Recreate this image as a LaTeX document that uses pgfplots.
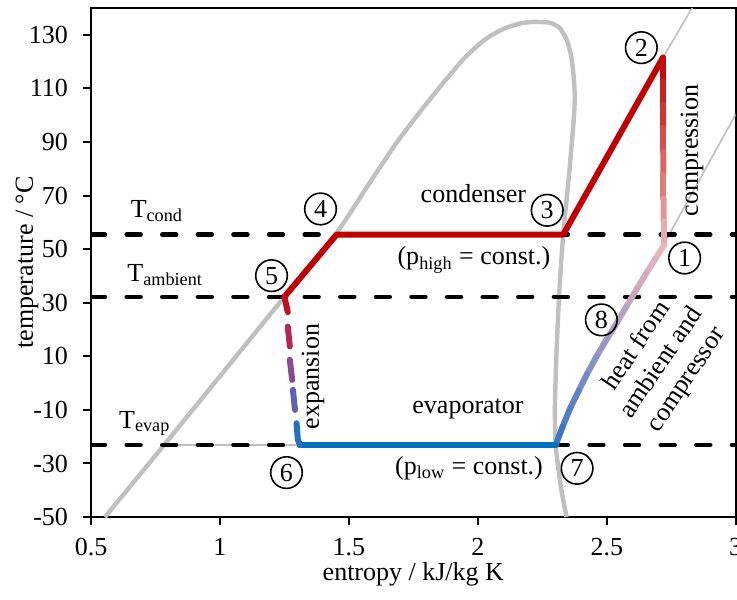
\documentclass[border=0pt]{standalone}
\usepackage{fontspec}
\setmainfont{Liberation Serif}
\usepackage{pgfplots}
\pgfplotsset{compat=1.18}
\definecolor{dome}{RGB}{192,192,192}
\definecolor{cred}{RGB}{192,0,0}
\definecolor{cblue}{RGB}{0,112,192}
\definecolor{ex1}{RGB}{192,16,36}
\definecolor{ex2}{RGB}{178,42,84}
\definecolor{ex3}{RGB}{140,74,144}
\definecolor{ex4}{RGB}{98,96,176}
\definecolor{ex5}{RGB}{40,110,192}
\begin{document}
\fontsize{13bp}{15.6bp}\selectfont
\begin{tikzpicture}[cn/.style={circle, draw, line width=0.8bp, inner sep=0pt, minimum size=15.8bp}]
\begin{axis}[name=ax, scale only axis, width=322.3bp, height=254.5bp,
 xmin=0.5, xmax=3, ymin=-50, ymax=140,
 xtick={0.5,1,1.5,2,2.5,3}, ytick={-50,-30,-10,10,30,50,70,90,110,130},
 tick align=outside, major tick length=4bp, tick pos=left,
 axis line style={line width=1bp}, tick style={line width=1bp, black},
 /pgf/number format/assume math mode=true,
 yticklabel style={xshift=-3bp}, xticklabel style={yshift=-2bp},
 xlabel={entropy / kJ/kg K}, ylabel={temperature / °C},
 every axis x label/.style={at={(axis description cs:0.5,-0.1238)}, anchor=base},
 every axis y label/.style={at={(axis description cs:-0.09,0.5)}, rotate=90, anchor=base},
 point meta min=0, point meta max=1,
]
% saturation dome
\addplot[dome, line width=2.2bp, smooth, tension=0.4] table {
x y
0.554 -50
0.780 -23.5
1.250 32.2
1.452 56.0
1.572 73.5
1.685 89.7
1.814 105.9
1.943 120.8
2.030 128.4
2.100 132.2
2.163 134.2
2.214 134.8
2.279 134.5
2.318 132.5
2.345 128.0
2.362 122.0
2.372 114.0
2.376 106.0
2.370 96.0
2.352 76.0
2.331 55.4
2.315 32.4
2.305 11.2
2.299 -8.8
2.302 -23.1
2.322 -38.7
2.344 -50.0
};
% thin isobars
\addplot[dome, line width=0.8bp] coordinates {(2.718,121.5) (2.831,140)};
\addplot[dome, line width=0.8bp] coordinates {(2.722,52) (3.0,100.3)};
\addplot[dome, line width=0.8bp] coordinates {(0.780,-23.1) (1.310,-23.1)};
% dashed temperature levels
\addplot[black, line width=2.2bp, line cap=round, dash pattern=on 7bp off 10.8bp] coordinates {(0.5,55.4) (3,55.4)};
\addplot[black, line width=2.2bp, line cap=round, dash pattern=on 7bp off 10.8bp] coordinates {(0.5,32.2) (3,32.2)};
\addplot[black, line width=2.2bp, line cap=round, dash pattern=on 7bp off 10.8bp] coordinates {(0.5,-23.1) (3,-23.1)};
% high pressure side
\addplot[cred, line width=3bp, line join=round, line cap=round] coordinates {(1.250,32.2) (1.452,55.4) (2.331,55.4) (2.718,121.5)};
% compression (gradient)
\addplot[mesh, shader=flat, colormap={comp}{rgb255=(192,0,0) rgb255=(212,90,90) rgb255=(232,186,186)}, point meta=explicit, line width=3bp, line cap=round] table[meta=m] {
x y m
2.718 121.5 0
2.718 112.8 0.125
2.718 104.0 0.25
2.719 95.3 0.375
2.719 86.5 0.5
2.720 77.8 0.625
2.720 69.0 0.75
2.721 60.3 0.875
2.722 51.5 1
};
% heat from ambient and compressor (gradient)
\addplot[mesh, shader=flat, colormap={heat}{rgb255=(232,186,188) rgb255=(205,170,190) rgb255=(160,155,196) rgb255=(105,133,198) rgb255=(55,115,192)}, point meta=explicit, line width=3bp, line cap=round] table[meta=m] {
x y m
2.722 51.5 0
2.688 46.3 0.08
2.654 41.1 0.16
2.615 34.9 0.25
2.576 28.6 0.33
2.538 22.4 0.41
2.499 16.2 0.49
2.460 9.9 0.57
2.424 3.5 0.66
2.391 -2.9 0.74
2.358 -9.4 0.82
2.329 -16.2 0.91
2.302 -23.1 1
};
% evaporator
\addplot[cblue, line width=3bp, line cap=round] coordinates {(1.310,-23.1) (2.302,-23.1)};
% expansion (dashed, gradient)
\addplot[ex1, line width=3bp, line cap=round] coordinates {(1.250,32.2) (1.263,26.5)};
\addplot[ex2, line width=3bp, line cap=round] coordinates {(1.263,21.1) (1.271,13.7)};
\addplot[ex3, line width=3bp, line cap=round] coordinates {(1.271,8.7) (1.280,1.2)};
\addplot[ex4, line width=3bp, line cap=round] coordinates {(1.283,-2.5) (1.291,-10.0)};
\addplot[ex5, line width=3bp, line cap=round, line join=round] coordinates {(1.297,-15.0) (1.302,-21.0) (1.310,-23.1)};
% labels
\node[anchor=base west] at (axis cs:0.619,61.8) {T\textsubscript{cond}};
\node[anchor=base west] at (axis cs:0.606,38.0) {T\textsubscript{ambient}};
\node[anchor=base west] at (axis cs:0.574,-16.8) {T\textsubscript{evap}};
\node[anchor=base] at (axis cs:1.983,67.5) {condenser};
\node[anchor=base] at (axis cs:1.985,44.2) {(p\textsubscript{high} = const.)};
\node[anchor=base] at (axis cs:1.962,-11.5) {evaporator};
\node[anchor=base] at (axis cs:1.966,-34.0) {(p\textsubscript{low} = const.)};
\node[rotate=90] at (axis cs:2.831,86.8) {compression};
\node[rotate=90] at (axis cs:1.361,2.4) {expansion};
\node[rotate=56, align=center, font=\fontsize{13bp}{15bp}\selectfont] at (axis cs:2.714,7.5) {heat from\\ambient and\\compressor};
\node[cn] at (axis cs:2.802,46.7) {1};
\node[cn] at (axis cs:2.634,125.2) {2};
\node[cn] at (axis cs:2.269,64.5) {3};
\node[cn] at (axis cs:1.390,65.0) {4};
\node[cn] at (axis cs:1.200,40.1) {5};
\node[cn] at (axis cs:1.258,-33.4) {6};
\node[cn] at (axis cs:2.385,-31.8) {7};
\node[cn] at (axis cs:2.479,23.6) {8};
\end{axis}
\pgfresetboundingbox
\path[use as bounding box] ([shift={(-45.5bp,-41bp)}]ax.south west) rectangle ([shift={(0.65bp,4bp)}]ax.north east);
\end{tikzpicture}
\end{document}
